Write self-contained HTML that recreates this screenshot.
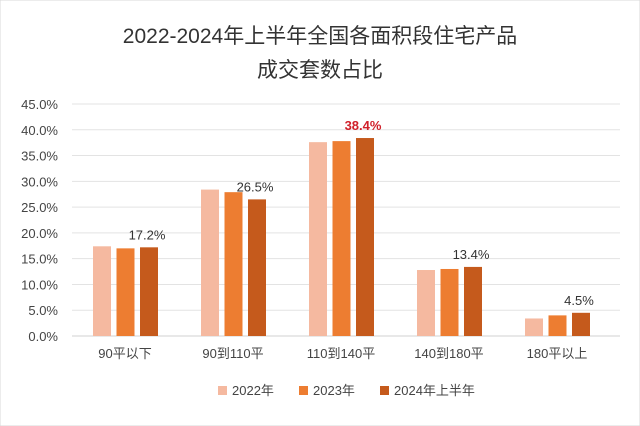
<!DOCTYPE html>
<html><head><meta charset="utf-8"><style>
body{margin:0;background:#fff;}
svg{display:block;font-family:"Liberation Sans","Noto Sans CJK SC",sans-serif;}
</style></head><body>
<svg width="640" height="426" viewBox="0 0 640 426">
<rect x="0" y="0" width="640" height="426" fill="#fff" stroke="#d9d9d9"/>
<text x="320" y="43" text-anchor="middle" font-size="21" fill="#333">2022-2024年上半年全国各面积段住宅产品</text>
<text x="320" y="77" text-anchor="middle" font-size="21" fill="#333">成交套数占比</text>
<g id="grid"></g><g id="bars"></g><g id="labels"></g>
<g font-size="13" fill="#444">
<rect x="218" y="386" width="9" height="9" fill="#f5b9a0"/>
<text x="232" y="395">2022年</text>
<rect x="299" y="386" width="9" height="9" fill="#ed7d31"/>
<text x="313" y="395">2023年</text>
<rect x="380" y="386" width="9" height="9" fill="#c55a1c"/>
<text x="394" y="395">2024年上半年</text>
</g>
</svg>
<script>
const categories=["90平以下","90到110平","110到140平","140到180平","180平以上"];
const s2022=[17.4,28.4,37.6,12.8,3.4];
const s2023=[17.0,27.9,37.8,13.0,4.0];
const s2024=[17.2,26.5,38.4,13.4,4.5];
const ticks=[0,5,10,15,20,25,30,35,40,45];
const ns="http://www.w3.org/2000/svg";
const y=v=>336-v*(232/45);
const gx=i=>93+i*108;
const colors=["#f5b9a0","#ed7d31","#c55a1c"];
const series=[s2022,s2023,s2024];
const grid=document.getElementById('grid'),bars=document.getElementById('bars'),lab=document.getElementById('labels');
function mk(tag,attrs,parent){const e=document.createElementNS(ns,tag);for(const k in attrs)e.setAttribute(k,attrs[k]);parent.appendChild(e);return e;}
ticks.forEach(t=>{
 const l=mk('line',{x1:72,x2:620,y1:y(t),y2:y(t),stroke:t===0?'#d0d0d0':'#e3e3e3','stroke-width':1},grid);
 
 
 const tx=mk('text',{x:58,y:y(t)+5,'text-anchor':'end','font-size':13,fill:'#444'},grid);
 tx.textContent=t.toFixed(1)+'%';
 
 
});
categories.forEach((c,i)=>{
 series.forEach((s,j)=>{
  const r=mk('rect',{x:gx(i)+j*23.5,y:y(s[i]),width:18,height:336-y(s[i]),fill:colors[j]},bars);
  
  
 });
 const t=mk('text',{x:gx(i)+32,y:358,'text-anchor':'middle','font-size':13,fill:'#444'},lab);
 t.textContent=c;
 
 
 const v=s2024[i];
 const vl=mk('text',{x:gx(i)+54,y:y(v)-8,'text-anchor':'middle','font-size':13,fill:i===2?'#d0202a':'#333','font-weight':i===2?'bold':'normal'},lab);
 vl.textContent=v.toFixed(1)+'%';
 
 
});
</script>
</body></html>
